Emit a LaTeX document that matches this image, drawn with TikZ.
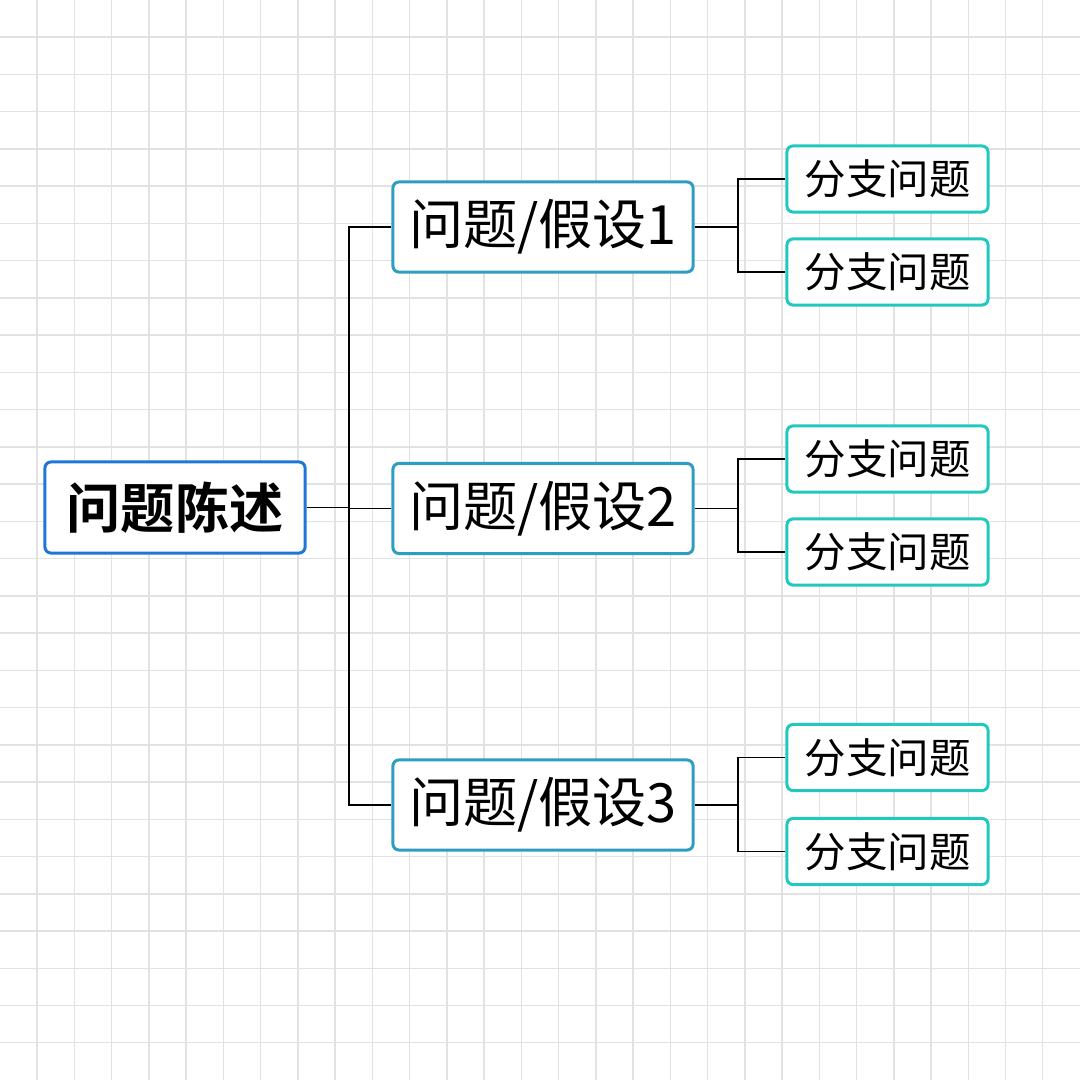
\documentclass[tikz,border=0pt]{standalone}
\usepackage{fontspec}
\newfontfamily\cjk{Noto Sans CJK SC}
\newfontfamily\cjkbold{Noto Sans CJK SC Bold}
\definecolor{rootblue}{HTML}{1E76D6}
\definecolor{midteal}{HTML}{2E9EC0}
\definecolor{leafcyan}{HTML}{22C8C0}
\definecolor{gridgray}{HTML}{E2E2E4}
\tikzset{
  rootbox/.style={draw=rootblue, line width=0.03cm, rounded corners=0.06cm, fill=white,
    minimum width=2.6cm, minimum height=0.91cm, inner sep=0pt,
    font=\cjkbold\fontsize{15.4pt}{16pt}\selectfont},
  midbox/.style={draw=midteal, line width=0.03cm, rounded corners=0.06cm, fill=white,
    minimum width=3.0cm, minimum height=0.90cm, inner sep=0pt,
    font=\cjk\fontsize{15.4pt}{16pt}\selectfont},
  leafbox/.style={draw=leafcyan, line width=0.03cm, rounded corners=0.06cm, fill=white,
    minimum width=2.01cm, minimum height=0.66cm, inner sep=0pt,
    font=\cjk\fontsize{11.8pt}{12pt}\selectfont},
  link/.style={draw=black, line width=0.015cm},
  gridline/.style={draw=gridgray, line width=0.015cm}
}
\begin{document}
\begin{tikzpicture}[x=0.01cm, y=-0.01cm]
\fill[white] (0,0) rectangle (1080,1080);
\useasboundingbox (0,0) rectangle (1080,1080);
\foreach \i in {1,...,28} {
  \draw[gridline] ({\i*37.24},0) -- ({\i*37.24},1080);
  \draw[gridline] (0,{\i*37.24}) -- (1080,{\i*37.24});
}
\node[rootbox] (root) at (175,507.5) {问题陈述};
\node[midbox] (m1) at (543,227) {问题/假设1};
\node[midbox] (m2) at (543,508.5) {问题/假设2};
\node[midbox] (m3) at (543,805) {问题/假设3};
\node[leafbox] (l1) at (887.5,179) {分支问题};
\node[leafbox] (l2) at (887.5,272) {分支问题};
\node[leafbox] (l3) at (887.5,459) {分支问题};
\node[leafbox] (l4) at (887.5,552) {分支问题};
\node[leafbox] (l5) at (887.5,757.5) {分支问题};
\node[leafbox] (l6) at (887.5,851.5) {分支问题};
\coordinate (j0) at (349,507.5);
\coordinate (j1) at (738,227);
\coordinate (j2) at (738,508.5);
\coordinate (j3) at (738,805);
\draw[link] (root.east) -- (j0);
\draw[link] (j0) |- (m1.west);
\draw[link] (j0) |- (m2.west);
\draw[link] (j0) |- (m3.west);
\draw[link] (m1.east) -- (j1);
\draw[link] (j1) |- (l1.west);
\draw[link] (j1) |- (l2.west);
\draw[link] (m2.east) -- (j2);
\draw[link] (j2) |- (l3.west);
\draw[link] (j2) |- (l4.west);
\draw[link] (m3.east) -- (j3);
\draw[link] (j3) |- (l5.west);
\draw[link] (j3) |- (l6.west);
\end{tikzpicture}
\end{document}
